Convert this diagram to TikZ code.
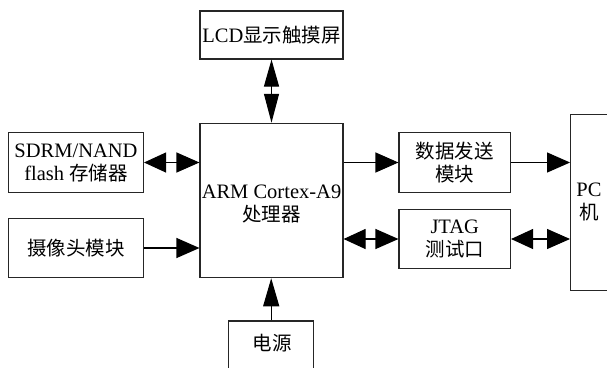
\documentclass[tikz,border=0pt]{standalone}
\usepackage{fontspec}
\setmainfont{Liberation Serif}
\newfontfamily\cjk[Scale=0.95]{Noto Sans CJK SC}
\usetikzlibrary{arrows.meta}
\tikzset{
  txt/.style={align=center, font=\fontsize{20.5}{23}\selectfont},
  blk/.style={txt, draw=black!85, line width=1.1pt, inner sep=0pt},
  conn/.style={draw=black, line width=1.1pt},
  hd/.style={conn, -{Triangle[length=23pt,width=20pt]}},
  hdd/.style={conn, {Triangle[length=22pt,width=20pt]}-{Triangle[length=23pt,width=20pt]}},
  vd/.style={conn, -{Triangle[length=28pt,width=16pt]}},
  vdd/.style={conn, {Triangle[length=27pt,width=15pt]}-{Triangle[length=29pt,width=15pt]}},
}
\begin{document}
\begin{tikzpicture}[x=1pt,y=-1pt]
\clip (0,0) rectangle (607,367);
\useasboundingbox (0,0) rectangle (607,367);
\node[blk, minimum width=143pt, minimum height=48pt] (lcd) at (271.5,35) {LCD{\cjk 显示触摸屏}};
\node[blk, minimum width=143pt, minimum height=154.4pt] (cpu) at (271.5,200.5) {};
\node[txt] (cput) at (271.5,204) {ARM Cortex-A9\\{\cjk 处理器}};
\node[blk, minimum width=135pt, minimum height=60.4pt] (sdrm) at (76,162.5) {SDRM/NAND\\flash {\cjk 存储器}};
\node[blk, minimum width=135pt, minimum height=59.4pt] (cam) at (76,248) {{\cjk 摄像头模块}};
\node[blk, minimum width=111.5pt, minimum height=60pt] (data) at (454.75,162.5) {{\cjk 数据发送}\\{\cjk 模块}};
\node[blk, minimum width=111.5pt, minimum height=59.4pt] (jtag) at (454.75,239) {JTAG\\{\cjk 测试口}};
\node[blk, minimum width=60pt, minimum height=176.4pt] (pc) at (600.6,202.5) {};
\node[txt] (pct) at (589,202) {PC\\{\cjk 机}};
\node[blk, minimum width=84.8pt, minimum height=60pt] (pwr) at (271.2,351) {};
\node[txt] (pwrt) at (272,343) {{\cjk 电源}};
\draw[vdd] (lcd.south) -- (cpu.north);
\draw[hdd] (sdrm.east) -- (sdrm.east -| cpu.west);
\draw[hd] (cam.east) -- (cam.east -| cpu.west);
\draw[hd] (data.west -| cpu.east) -- (data.west);
\draw[hd] (data.east) -- (data.east -| pc.west);
\draw[hdd] (jtag.west -| cpu.east) -- (jtag.west);
\draw[hdd] (jtag.east) -- (jtag.east -| pc.west);
\draw[vd] (pwr.north) -- (pwr.north |- cpu.south);
\end{tikzpicture}
\end{document}
